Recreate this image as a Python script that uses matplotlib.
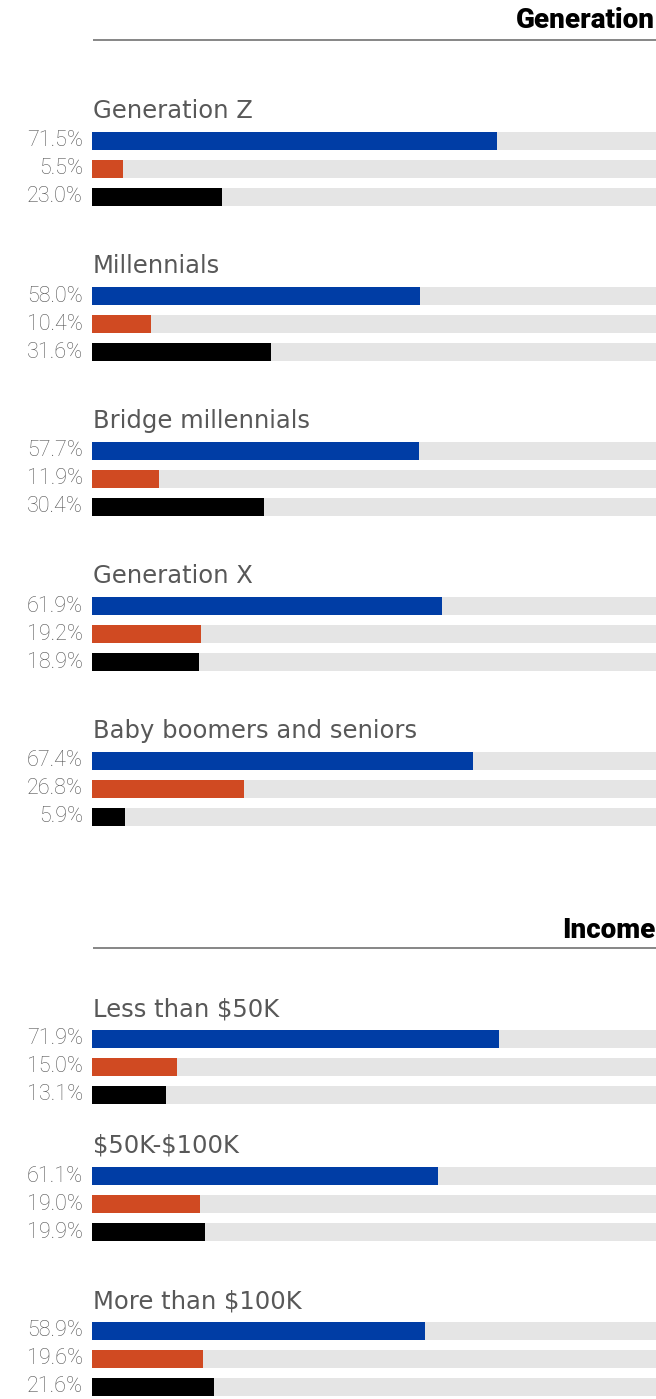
import matplotlib
matplotlib.use("Agg")
import matplotlib.pyplot as plt

plt.rcParams["text.parse_math"] = False

# ---- data ----
sections = ["Generation", "Income"]
gen_groups = ["Generation Z", "Millennials", "Bridge millennials", "Generation X", "Baby boomers and seniors"]
gen_blue = [71.5, 58.0, 57.7, 61.9, 67.4]
gen_orange = [5.5, 10.4, 11.9, 19.2, 26.8]
gen_black = [23.0, 31.6, 30.4, 18.9, 5.9]

inc_groups = ["Less than $50K", "$50K-$100K", "More than $100K"]
inc_blue = [71.9, 61.1, 58.9]
inc_orange = [15.0, 19.0, 19.6]
inc_black = [13.1, 19.9, 21.6]

# ---- layout (pixel rows) ----
W, H = 656, 1399
left_px = 92
px_per_pct = 5.66
section_title_y = [21, 930]
section_line_y = [40, 948]
gen_first_bar = [141, 296, 451, 606, 761]
inc_first_bar = [1039, 1176, 1331]
label_offset = 30
row_gap = 28
bar_h = 18

BLUE = "#003DA5"
ORANGE = "#D04A22"
BLACK = "#000000"
GRAY = "#E5E5E5"

fig = plt.figure(figsize=(W / 100, H / 100), dpi=100)
ax = fig.add_axes([left_px / W, 0, 1 - left_px / W, 1])
xmax = (W - left_px) / px_per_pct
ax.set_xlim(0, xmax)
ax.set_ylim(H, 0)
ax.axis("off")

label_font = ["DejaVu Sans"]
pct_font = ["Roboto", "DejaVu Sans"]

def draw_group(name, vals, y0):
    ax.text(0.1, y0 - label_offset, name, fontsize=17.5, color="#585858",
            family=label_font, va="center", ha="left")
    for i, (v, c) in enumerate(zip(vals, [BLUE, ORANGE, BLACK])):
        y = y0 + i * row_gap
        ax.barh(y, 100, height=bar_h, left=0, color=GRAY, zorder=1)
        ax.barh(y, v, height=bar_h, left=0, color=c, zorder=2)
        ax.annotate(f"{v:.1f}%", xy=(0, y), xytext=(-9, 0), textcoords="offset pixels",
                    ha="right", va="center", fontsize=15.5, color="#555555",
                    family=pct_font, fontweight="light", annotation_clip=False)

def draw_section(title, ty, ly):
    ax.annotate(title, xy=(1.0, ty), xycoords=("axes fraction", "data"),
                xytext=(-1, 0), textcoords="offset pixels",
                ha="right", va="center", fontsize=20, fontweight="heavy",
                color="black", family=["Roboto", "DejaVu Sans"])
    ax.plot([0.1, xmax], [ly, ly], color="#666666", lw=1.1, solid_capstyle="butt")

draw_section(sections[0], section_title_y[0], section_line_y[0])
for name, b, o, k, y0 in zip(gen_groups, gen_blue, gen_orange, gen_black, gen_first_bar):
    draw_group(name, [b, o, k], y0)

draw_section(sections[1], section_title_y[1], section_line_y[1])
for name, b, o, k, y0 in zip(inc_groups, inc_blue, inc_orange, inc_black, inc_first_bar):
    draw_group(name, [b, o, k], y0)

fig.savefig("out.png", dpi=100, facecolor="white")
